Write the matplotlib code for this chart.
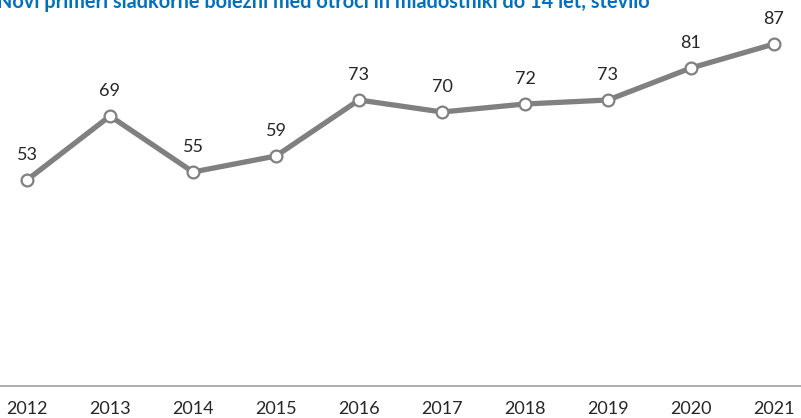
import matplotlib.pyplot as plt

# Novi primeri sladkorne bolezni, otroci in mladostniki do 14 let
years = ["2012", "2013", "2014", "2015", "2016",
         "2017", "2018", "2019", "2020", "2021"]
cases = [53, 69, 55, 59, 73, 70, 72, 73, 81, 87]

title = "Novi primeri sladkorne bolezni med otroci in mladostniki do 14 let, število"

plt.rcParams["font.family"] = ["Lato", "DejaVu Sans"]

W, H = 801, 418
fig = plt.figure(figsize=(W / 100, H / 100), dpi=100)
# axes: bottom line at y=386 px, spans full width
ax = fig.add_axes([0, (H - 386) / H, 1, 386 / H])

x = list(range(len(years)))
ax.plot(x, cases, color="#808080", linewidth=3.8, solid_capstyle="round",
        marker="o", markersize=8.5, markerfacecolor="white",
        markeredgecolor="#808080", markeredgewidth=1.6, zorder=3)

for xi, v in zip(x, cases):
    ax.annotate(str(v), (xi, v), xytext=(0, 14.5), textcoords="offset points",
                ha="center", va="baseline", fontsize=13, color="#262626")

ax.set_xlim(-27 / 83, (W - 27) / 83)
ax.set_ylim(1.5, 1.5 + 386 / 4)

ax.set_xticks(x)
ax.set_xticklabels(years, fontsize=13, color="#262626")
ax.tick_params(axis="x", length=0, pad=11)
ax.set_yticks([])

for side in ["top", "right", "left"]:
    ax.spines[side].set_visible(False)
ax.spines["bottom"].set_color("#A6A6A6")
ax.spines["bottom"].set_linewidth(1.3)
ax.patch.set_alpha(0)

fig.text(-3 / W, (H - 8) / H, title, ha="left", va="baseline",
         fontsize=14.3, fontweight="bold", color="#0070C0")

fig.savefig("out.png", dpi=100)
